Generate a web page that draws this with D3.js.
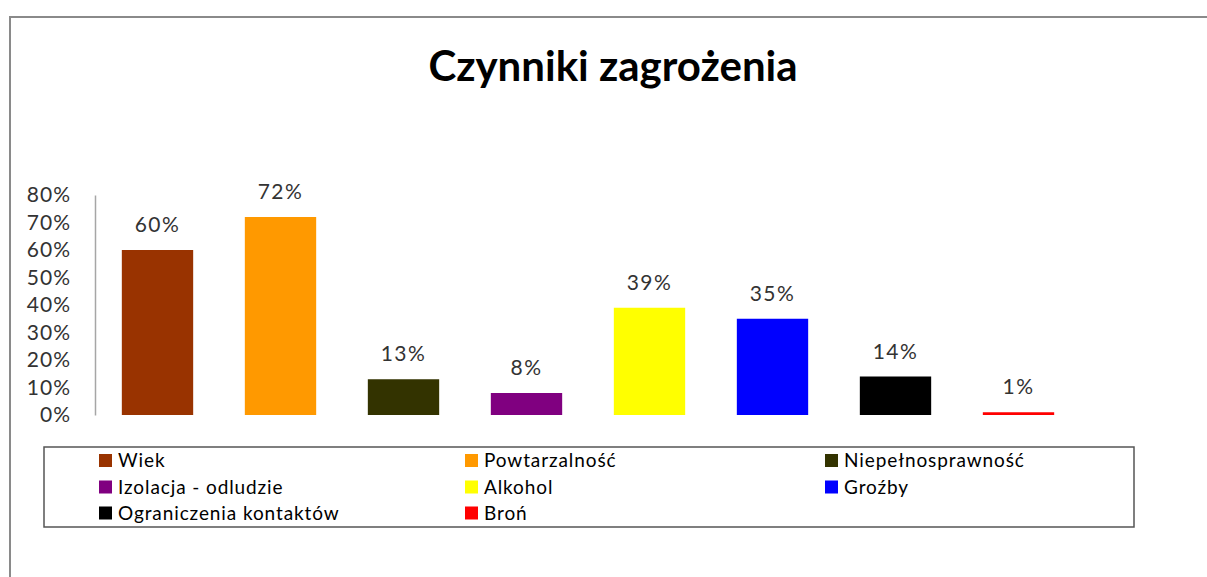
<!DOCTYPE html>
<html>
<head>
<meta charset="utf-8">
<script src="https://cdn.jsdelivr.net/npm/d3@7"></script>
<style>
  body { margin: 0; background: #fff; }
  svg { display: block; font-family: Lato, "Open Sans", sans-serif; }
</style>
</head>
<body>
<div id="chart"></div>
<script>
// chart data
var categories = ["Wiek", "Powtarzalność", "Niepełnosprawność", "Izolacja - odludzie",
                  "Alkohol", "Groźby", "Ograniczenia kontaktów", "Broń"];
var values = [0.60, 0.72, 0.13, 0.08, 0.39, 0.35, 0.14, 0.01];
var colors = ["#993300", "#ff9900", "#333300", "#800080",
              "#ffff00", "#0000ff", "#000000", "#ff0000"];
var yTicks = [0, 0.1, 0.2, 0.3, 0.4, 0.5, 0.6, 0.7, 0.8];
var title = "Czynniki zagrożenia";

var width = 1207, height = 577;

const svg = d3.select("#chart")
  .append("svg")
  .attr("width", width)
  .attr("height", height);

// outer chart frame (top and left edge only, rest is cropped)
svg.append("path")
  .attr("d", "M10," + height + "V17H" + width)
  .attr("fill", "none")
  .attr("stroke", "#8a8a8a")
  .attr("stroke-width", 2);

// title
svg.append("text")
  .attr("x", 613)
  .attr("y", 81)
  .attr("text-anchor", "middle")
  .attr("font-size", 42)
  .attr("font-weight", "bold")
  .attr("fill", "#000")
  .text(title);

// scales
const x = d3.scaleBand()
  .domain(categories)
  .range([96, 1080])
  .paddingInner(0.42)
  .paddingOuter(0.21);

const y = d3.scaleLinear()
  .domain([0, 0.8])
  .range([415, 195]);

// y axis
const yAxis = svg.append("g")
  .attr("transform", "translate(95,0)")
  .call(d3.axisLeft(y)
    .tickValues(yTicks)
    .tickFormat(d3.format(".0%"))
    .tickSize(0)
    .tickPadding(24));

yAxis.select(".domain")
  .attr("stroke", "#a6a6a6")
  .attr("stroke-width", 1.5);

yAxis.selectAll("text")
  .attr("font-size", 21)
  .attr("letter-spacing", 1)
  .attr("font-family", "Lato, sans-serif")
  .attr("fill", "#333");

// bars
svg.append("g")
  .selectAll("rect")
  .data(values)
  .enter()
  .append("rect")
  .attr("x", (d, i) => x(categories[i]))
  .attr("y", d => y(d))
  .attr("width", x.bandwidth())
  .attr("height", d => y(0) - y(d))
  .attr("fill", (d, i) => colors[i]);

// data labels
svg.append("g")
  .selectAll("text")
  .data(values)
  .enter()
  .append("text")
  .attr("x", (d, i) => x(categories[i]) + x.bandwidth() / 2)
  .attr("y", d => y(d) - 18)
  .attr("text-anchor", "middle")
  .attr("font-size", 21)
  .attr("letter-spacing", 1.5)
  .attr("fill", "#333")
  .text(d => d3.format(".0%")(d));

// legend
var legendCols = [99, 465, 825];
var legendRows = [460.5, 487, 513];

svg.append("rect")
  .attr("x", 44)
  .attr("y", 447)
  .attr("width", 1090)
  .attr("height", 80)
  .attr("fill", "none")
  .attr("stroke", "#555")
  .attr("stroke-width", 1.5);

const legendItems = svg.append("g")
  .selectAll("g")
  .data(categories)
  .enter()
  .append("g")
  .attr("transform", (d, i) => `translate(${legendCols[i % 3]},${legendRows[Math.floor(i / 3)]})`);

legendItems.append("rect")
  .attr("x", 0)
  .attr("y", -6.5)
  .attr("width", 13)
  .attr("height", 13)
  .attr("fill", (d, i) => colors[i]);

legendItems.append("text")
  .attr("x", 19)
  .attr("dy", "0.35em")
  .attr("font-size", 19)
  .attr("letter-spacing", 0.9)
  .attr("fill", "#000")
  .text(d => d);
</script>
</body>
</html>
